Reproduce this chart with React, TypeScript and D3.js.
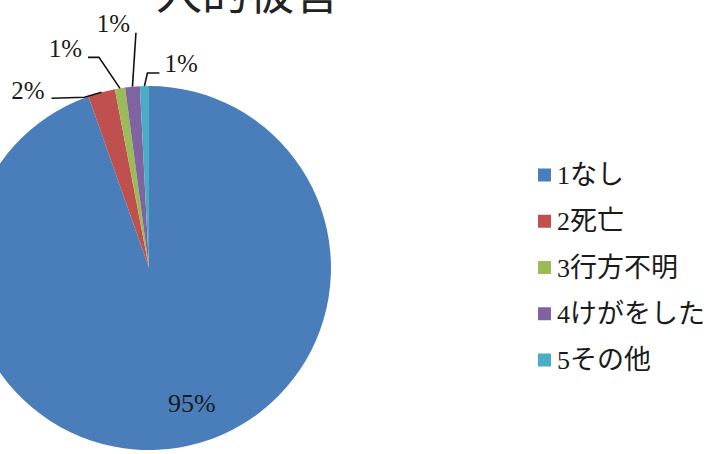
import * as d3 from "d3";

const categories = ["1なし", "2死亡", "3行方不明", "4けがをした", "5その他"];
const shares = [94.6, 2.4, 0.9, 1.3, 0.8];
const colors = ["#4a7ebb", "#c0504d", "#9bbb59", "#8064a2", "#4bacc6"];
const title = "人的被害";

// label placement relative to the slice's anchor point on the rim (layout only)
const labelLayout = [
  { inside: true, dx: 19, dy: 5, anchor: "middle", size: 26, leader: [] as number[][] },
  { inside: false, dx: -57, dy: 7, anchor: "end", size: 25, leader: [[0, 0], [-17, 5], [-50, 6]] },
  { inside: false, dx: -38, dy: -31, anchor: "end", size: 25, leader: [[0, 0], [-21, -31], [-32, -31]] },
  { inside: false, dx: -2.5, dy: -55, anchor: "end", size: 25, leader: [[0, 0], [3.5, -54]] },
  { inside: false, dx: 20, dy: -14, anchor: "start", size: 25, leader: [[0, 0], [3, -13], [15, -13]] },
];

const W = 712;
const H = 454;
const cx = 149;
const cy = 268;
const R = 182;

const serif = "'Liberation Serif', 'DejaVu Serif', serif";
const cjk = "'Noto Sans CJK JP', 'Noto Sans', sans-serif";

export default function App() {
  const total = d3.sum(shares);
  const pie = d3.pie<number>().sort(null).value((d) => d);
  const arcs = pie(shares);
  const arc = d3.arc<d3.PieArcDatum<number>>().innerRadius(0).outerRadius(R);
  const rim = d3.arc<d3.PieArcDatum<number>>().innerRadius(R).outerRadius(R);
  const inner = d3.arc<d3.PieArcDatum<number>>().innerRadius(R * 1.55).outerRadius(0);

  const legendY = d3.scalePoint<string>().domain(categories).range([175, 360]);

  return (
    <svg
      width={W}
      height={H}
      style={{ position: "absolute", left: 0, top: 0, display: "block", background: "#fff" }}
    >
      <text x={248} y={9} textAnchor="middle" fontFamily={cjk} fontSize={46} fill="#222">
        {title}
      </text>

      <g transform={`translate(${cx},${cy})`}>
        {arcs.map((a, i) => (
          <path key={i} d={arc(a) as string} fill={colors[i]} />
        ))}
        {arcs.map((a, i) => {
          const lay = labelLayout[i];
          const [ax, ay] = lay.inside ? inner.centroid(a) : rim.centroid(a);
          const pct = `${Math.round((shares[i] / total) * 100)}%`;
          const line = d3.line()(lay.leader.map(([x, y]) => [ax + x, ay + y] as [number, number]));
          return (
            <g key={i}>
              {lay.leader.length > 0 && (
                <path d={line as string} fill="none" stroke="#111" strokeWidth={1.6} />
              )}
              <text
                x={ax + lay.dx}
                y={ay + lay.dy}
                textAnchor={lay.anchor}
                fontFamily={serif}
                fontSize={lay.size}
                fill="#1a1a1a"
              >
                {pct}
              </text>
            </g>
          );
        })}
      </g>

      <g>
        {categories.map((c, i) => {
          const y = legendY(c) as number;
          const m = c.match(/^(\d+)(.*)$/);
          const num = m ? m[1] : "";
          const rest = m ? m[2] : c;
          return (
            <g key={c}>
              <rect x={538} y={y - 6.5} width={13} height={13} fill={colors[i]} />
              <text x={557} y={y + 9} fill="#1a1a1a">
                <tspan fontFamily={serif} fontSize={26}>
                  {num}
                </tspan>
                <tspan fontFamily={cjk} fontSize={27} dx={0}>
                  {rest}
                </tspan>
              </text>
            </g>
          );
        })}
      </g>
    </svg>
  );
}
